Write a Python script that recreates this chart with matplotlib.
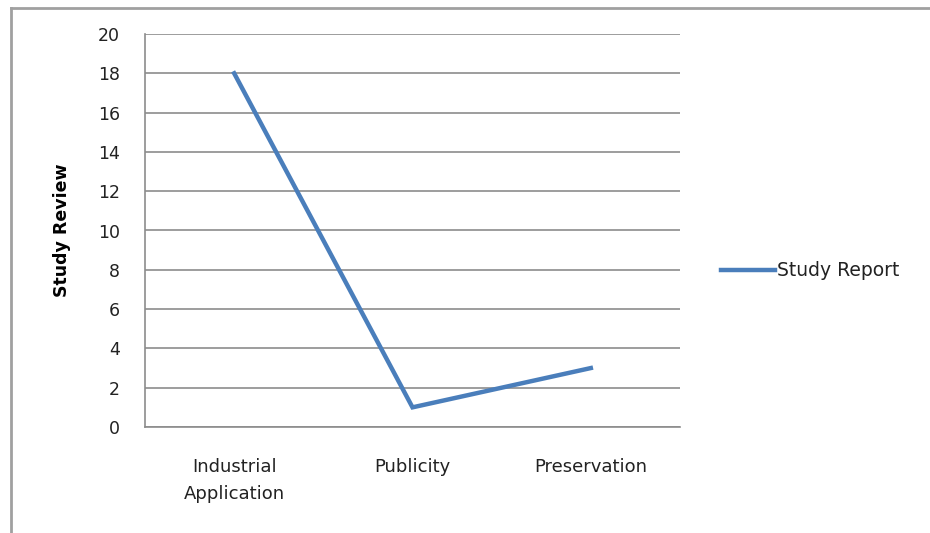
import matplotlib
matplotlib.use("Agg")
import matplotlib.pyplot as plt
from matplotlib.lines import Line2D

categories = ["Industrial\nApplication", "Publicity", "Preservation"]
study_report = [18, 1, 3]
yticks = [0, 2, 4, 6, 8, 10, 12, 14, 16, 18, 20]

plt.rcParams['font.family'] = ['DejaVu Sans']

fig = plt.figure(figsize=(9.3, 5.33), dpi=100)
ax = fig.add_axes([145 / 930, 1 - 427 / 533, 535 / 930, 393 / 533])

x = range(len(categories))
ax.plot(x, study_report, color='#4A7EBB', lw=3.2, label='Study Report',
        solid_joinstyle='miter')

ax.set_xlim(-0.5, 2.5)
ax.set_ylim(0, 20)
ax.set_yticks(yticks)
ax.set_xticks(list(x))
ax.set_xticklabels(categories, fontsize=13, linespacing=1.7, color='#222222')
ax.tick_params(axis='y', labelsize=12.5, length=0, pad=18, labelcolor='#222222')
ax.tick_params(axis='x', length=0, pad=22)
ax.grid(axis='y', color='#8c8c8c', lw=1.2)
ax.set_axisbelow(True)
for s in ['top', 'right']:
    ax.spines[s].set_visible(False)
for s in ['left', 'bottom']:
    ax.spines[s].set_color('#8c8c8c')
    ax.spines[s].set_linewidth(1.2)

ax.set_ylabel("Study Review", fontsize=12.5, fontweight='bold', labelpad=19)

ax.legend(loc='center left', bbox_to_anchor=(1.045, 0.397), frameon=False,
          fontsize=13.5, handlelength=2.9, handletextpad=0.1,
          labelcolor='#222222')

# outer chart border (left and top only are visible)
fig.add_artist(Line2D([11 / 930, 11 / 930], [0, 1 - 8 / 533], color='#a0a0a0', lw=2,
                      transform=fig.transFigure))
fig.add_artist(Line2D([11 / 930, 1], [1 - 8 / 533, 1 - 8 / 533], color='#a0a0a0', lw=2,
                      transform=fig.transFigure))

fig.savefig("out.png", dpi=100)
